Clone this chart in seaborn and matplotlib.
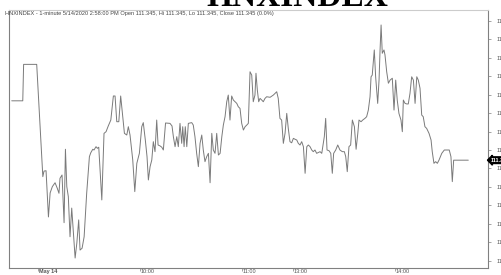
import matplotlib
matplotlib.use("Agg")
import matplotlib.pyplot as plt
import matplotlib.transforms as mtransforms
import seaborn as sns
import pandas as pd

# -----------------------------
# Data
# minutes of trading time after 09:00 (lunch break removed), HNX index value
# -----------------------------
minute = [
    -15.2, -8.7, -8.2, -0.5, 3.1, 3.8, 5.0, 6.4, 7.4, 8.7,
    10.3, 11.6, 12.6, 13.2, 14.4, 15.6, 16.4, 17.2, 18.1, 19.1,
    20.1, 21.1, 22.1, 23.1, 24.2, 25.0, 26.2, 27.4, 28.9, 30.5,
    31.3, 32.5, 33.2, 34.4, 35.2, 36.0, 37.8, 39.1, 40.3, 41.6,
    43.1, 44.6, 45.6, 46.6, 47.8, 48.9, 50.1, 51.1, 52.5, 53.4,
    54.4, 56.0, 57.2, 58.4, 59.9, 61.3, 62.2, 63.4, 64.4, 65.2,
    66.2, 67.2, 68.1, 69.1, 70.1, 70.9, 72.1, 73.1, 74.0, 75.3,
    77.9, 79.1, 79.9, 80.9, 81.9, 82.8, 83.8, 84.8, 85.4, 86.2,
    86.9, 87.8, 88.7, 90.7, 91.6, 92.6, 93.6, 94.6, 95.6, 96.6,
    97.5, 98.5, 99.5, 100.5, 101.5, 102.5, 103.4, 104.4, 105.4, 106.4,
    107.4, 108.4, 109.3, 110.3, 111.3, 112.2, 113.2, 114.2, 115.2, 116.2,
    117.2, 118.1, 119.1, 120.1, 121.1, 122.1, 123.1, 124.0, 125.0, 126.0,
    126.9, 127.9, 128.5, 129.3, 130.1, 130.9, 131.9, 132.8, 133.8, 134.8,
    136.8, 138.7, 140.7, 141.6, 142.6, 143.6, 144.6, 145.6, 146.6, 147.5,
    148.5, 149.5, 150.5, 151.5, 152.5, 153.4, 154.4, 155.4, 156.4, 157.4,
    158.4, 159.3, 160.3, 161.3, 162.2, 163.2, 164.2, 166.2, 167.2, 168.7,
    169.5, 170.3, 171.5, 172.5, 173.4, 174.2, 175.4, 176.6, 177.9, 179.3,
    180.5, 181.3, 182.2, 183.2, 184.2, 185.2, 186.4, 187.4, 188.4, 189.1,
    190.3, 191.3, 192.6, 193.6, 194.6, 195.6, 196.2, 196.9, 198.1, 198.9,
    200.1, 200.9, 201.5, 202.1, 202.8, 203.8, 204.4, 205.4, 206.4, 207.4,
    208.7, 209.7, 210.7, 211.6, 212.6, 213.8, 214.6, 215.2, 216.2, 217.2,
    218.1, 219.1, 220.1, 221.1, 222.1, 223.1, 224.0, 225.0, 226.0, 226.9,
    227.9, 228.9, 230.3, 231.5, 232.2, 233.2, 234.2, 235.2, 236.2, 237.8,
    239.3, 241.3, 242.2, 243.2, 244.0, 244.8, 253.4,
]

price = [
    111.666, 111.666, 111.863, 111.863, 111.256, 111.286, 111.288, 111.038, 111.168, 111.202,
    111.223, 111.193, 111.166, 111.247, 111.265, 111.007, 111.404, 111.202, 111.148, 110.931,
    111.086, 110.950, 110.816, 110.896, 111.022, 110.859, 110.869, 110.931, 111.166, 111.364,
    111.385, 111.404, 111.400, 111.418, 111.409, 111.415, 111.130, 111.490, 111.499, 111.530,
    111.562, 111.692, 111.692, 111.553, 111.553, 111.692, 111.580, 111.490, 111.481, 111.526,
    111.481, 111.346, 111.175, 111.328, 111.382, 111.526, 111.548, 111.454, 111.364, 111.238,
    111.310, 111.346, 111.445, 111.391, 111.562, 111.427, 111.422, 111.415, 111.400, 111.546,
    111.544, 111.530, 111.472, 111.418, 111.472, 111.418, 111.544, 111.436, 111.526, 111.418,
    111.526, 111.418, 111.544, 111.548, 111.535, 111.472, 111.382, 111.310, 111.436, 111.481,
    111.400, 111.337, 111.364, 111.382, 111.223, 111.490, 111.400, 111.382, 111.490, 111.373,
    111.382, 111.472, 111.535, 111.580, 111.661, 111.697, 111.562, 111.692, 111.670, 111.661,
    111.652, 111.634, 111.625, 111.544, 111.508, 111.526, 111.535, 111.544, 111.823, 111.805,
    111.661, 111.697, 111.815, 111.724, 111.661, 111.679, 111.670, 111.661, 111.679, 111.688,
    111.685, 111.697, 111.715, 111.679, 111.571, 111.562, 111.436, 111.490, 111.598, 111.517,
    111.445, 111.439, 111.463, 111.458, 111.454, 111.436, 111.427, 111.445, 111.418, 111.274,
    111.418, 111.427, 111.418, 111.400, 111.391, 111.400, 111.382, 111.391, 111.382, 111.472,
    111.571, 111.400, 111.396, 111.382, 111.274, 111.382, 111.400, 111.427, 111.400, 111.391,
    111.391, 111.364, 111.283, 111.418, 111.427, 111.562, 111.526, 111.404, 111.490, 111.562,
    111.553, 111.562, 111.571, 111.580, 111.616, 111.688, 111.796, 111.805, 111.941, 111.796,
    111.652, 111.778, 111.941, 112.076, 111.923, 111.941, 111.914, 111.823, 111.761, 111.778,
    111.788, 111.616, 111.778, 111.670, 111.598, 111.562, 111.499, 111.670, 111.652, 111.649,
    111.649, 111.706, 111.796, 111.778, 111.652, 111.796, 111.778, 111.734, 111.589, 111.580,
    111.526, 111.517, 111.490, 111.454, 111.391, 111.328, 111.337, 111.328, 111.346, 111.382,
    111.400, 111.400, 111.400, 111.364, 111.229, 111.345, 111.345,
]

# x axis labels (09:00 = 0, lunch break 11:30-13:00 collapsed)
time_ticks = [0, 60, 120, 150, 210]
time_labels = ["May 14", "10:00", "11:00", "13:00", "14:00"]

# right axis ticks
price_ticks = [110.8, 110.9, 111.0, 111.1, 111.2, 111.3, 111.4,
               111.5, 111.6, 111.7, 111.8, 111.9, 112.0, 112.1]

last_price = 111.345
header = ("HNXINDEX - 1-minute 5/14/2020 2:58:00 PM Open 111.345, "
          "Hi 111.345, Lo 111.345, Close 111.345 (0.0%)")

df = pd.DataFrame({"minute": minute, "price": price})

# -----------------------------
# Plot
# -----------------------------
sns.set_style("white")
plt.rcParams["font.family"] = ["Liberation Sans", "DejaVu Sans"]

fig = plt.figure(figsize=(5.02, 2.75), dpi=100)
ax = fig.add_axes([9 / 502, 7 / 275, 479 / 502, 258 / 275])

sns.lineplot(
    data=df,
    x="minute",
    y="price",
    estimator=None,
    color="#7a7a7a",
    linewidth=0.7,
    ax=ax
)

ax.set_xlim(-16.8, 265.0)
ax.set_ylim(110.762, 112.157)

# frame
for side in ["left", "right", "bottom"]:
    ax.spines[side].set_color("#808080")
    ax.spines[side].set_linewidth(0.8)
ax.spines["top"].set_color("#cccccc")
ax.spines["top"].set_linewidth(0.8)

# right price axis (labels run off the image edge, as in the original)
ax.yaxis.tick_right()
ax.set_yticks(price_ticks)
ax.set_yticklabels([f"{v:.2f}" for v in price_ticks])
ax.tick_params(axis="y", which="both", right=True, left=False,
               length=2.0, width=0.5, color="#808080",
               pad=4.5, labelsize=4, labelcolor="#555555")

# bottom time axis
ax.set_xticks(time_ticks)
ax.set_xticklabels(time_labels)
ax.tick_params(axis="x", bottom=True, length=2.0, width=0.5,
               color="#808080", pad=-1.5, labelsize=4, labelcolor="#555555")
for lbl in ax.get_xticklabels():
    lbl.set_horizontalalignment("left")
ax.get_xticklabels()[0].set_fontweight("bold")
offset = mtransforms.ScaledTranslation(1.5 / 100, 0, fig.dpi_scale_trans)
for lbl in ax.get_xticklabels():
    lbl.set_transform(lbl.get_transform() + offset)

ax.set_xlabel("")
ax.set_ylabel("")

# header text
ax.text(-4 / 479, 1 - 1.5 / 258, header, transform=ax.transAxes,
        ha="left", va="top", fontsize=4.1, color="#444444")

# last price marker
marker_tr = mtransforms.blended_transform_factory(ax.transAxes, ax.transData)
ax.text(1.0 + 3 / 479, last_price, f"{last_price:.3f}", transform=marker_tr,
        ha="left", va="center", fontsize=4, color="white", fontweight="bold",
        bbox=dict(boxstyle="larrow,pad=0.15", fc="black", ec="black"),
        clip_on=False)

# big title, cut off by top edge
fig.text(297 / 502, 1 - 5.5 / 275, "HNXINDEX", ha="center", va="baseline",
         fontsize=24, fontweight="bold", family="Liberation Serif",
         color="black")

plt.savefig("out.png", dpi=100)
